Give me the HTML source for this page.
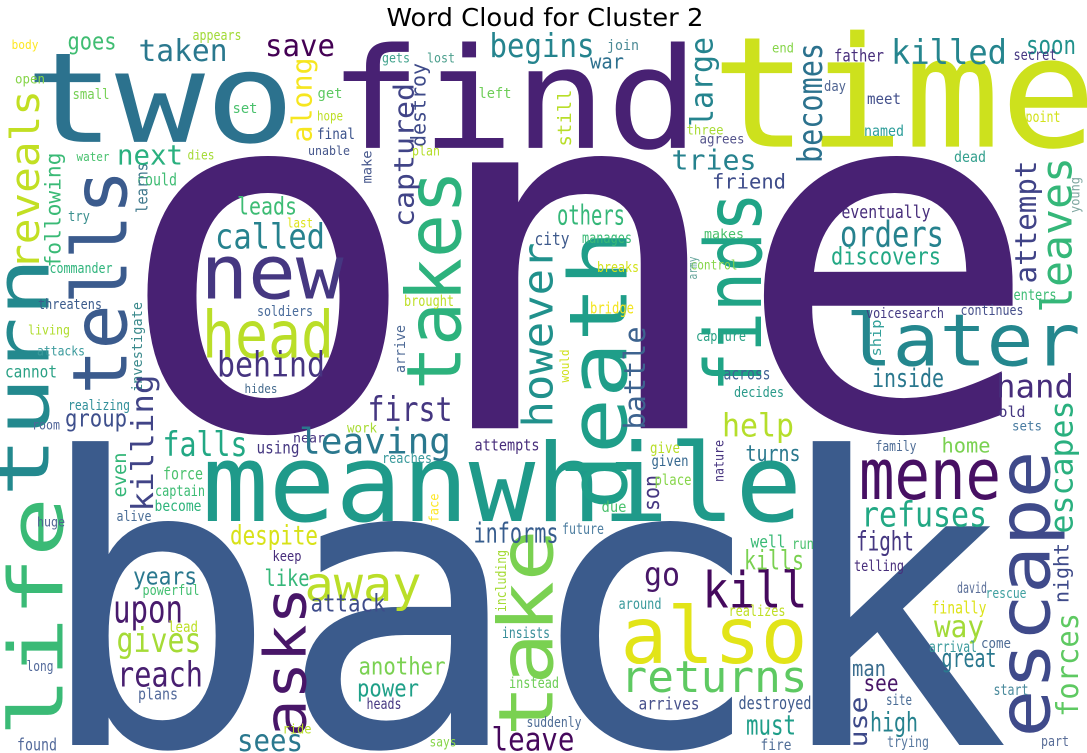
<!DOCTYPE html>
<html><head><meta charset="utf-8">
<style>
html,body{margin:0;padding:0;background:#fff;overflow:hidden;}
svg{display:block;}
</style></head>
<body>
<svg id="chart" width="1087" height="753" viewBox="0 0 1087 753" xmlns="http://www.w3.org/2000/svg">
<rect width="1087" height="753" fill="#fff"/>
<text x="545" y="26" text-anchor="middle" font-family="DejaVu Sans, Liberation Sans, sans-serif" font-size="25" textLength="317" lengthAdjust="spacingAndGlyphs" fill="#000">Word Cloud for Cluster 2</text>
<g id="cloud"></g>
</svg>
<script>
// word, weight (font size), color, placement [cx, cy, length, rotated]
const words = [];
const sizes = [];
const colors = [];
const cloud = [
["one",578,297,486,930,"#482173",0],
["back",522,637,400,976,"#3b5b8c",0],
["two",160,108,125,270,"#2c728e",0],
["find",514,110,140,370,"#482173",0],
["time",904,105,154,385,"#cde11d",0],
["meanwhile",502,492,108,600,"#1f9a8a",0],
["escape",1030,594,72,287,"#3f4a8a",1],
["life",42,617,75,240,"#3aba76",1],
["turn",28,377,75,240,"#23898e",1],
["reveals",28,180,40,180,"#c2df23",1],
["tells",106,282,76,225,"#3b5b8d",1],
["takes",440,280,76,220,"#2db27d",1],
["death",605,370,80,280,"#1f9e89",1],
["finds",740,292,78,200,"#20a486",1],
["however",541,335,42,185,"#21918c",1],
["take",532,633,76,207,"#7ad151",1],
["also",714,642,78,187,"#e2e418",0],
["returns",714,680,44,187,"#5ec962",0],
["kill",755,594,50,105,"#45095d",0],
["asks",290,662,58,150,"#481668",1],
["away",363,588,48,117,"#bade28",0],
["new",272,278,75,143,"#453781",0],
["head",268,340,65,132,"#bade28",0],
["behind",271,367,35,108,"#463480",0],
["called",270,239,35,110,"#26828e",0],
["later",963,346,72,235,"#24878e",0],
["mene",930,480,70,142,"#471063",0],
["leaves",1060,235,43,156,"#35b779",1],
["attempt",1028,222,29,123,"#404387",1],
["orders",892,237,36,104,"#26828e",0],
["discovers",886,258,24,110,"#22a884",0],
["eventually",886,213,18,89,"#472d7b",0],
["becomes",813,103,34,120,"#2c728e",1],
["killed",949,55,34,116,"#25858e",0],
["soon",1051,47,26,50,"#21918c",0],
["end",783,49,13,22,"#86d549",0],
["father",859,57,17,50,"#472d7b",0],
["secret",1035,56,15,43,"#453781",0],
["day",835,87,14,22,"#4f6492",0],
["meet",884,100,15,34,"#424f8b",0],
["point",1043,118,15,35,"#d2e21b",0],
["named",884,132,15,40,"#2e9e9a",0],
["dead",970,158,15,32,"#34a08e",0],
["young",1076,195,13,36,"#7fa6a0",1],
["enters",1035,296,15,43,"#3dbc74",0],
["continues",992,311,14,63,"#46508b",0],
["voicesearch",905,314,14,78,"#443a83",0],
["ship",877,338,14,37,"#33a09a",1],
["inside",908,380,26,72,"#2a788e",0],
["across",747,375,17,47,"#416294",0],
["decides",759,393,14,50,"#2a9a8a",0],
["hand",1035,389,32,78,"#472d7b",0],
["tries",714,162,28,85,"#26828e",0],
["friend",749,183,20,74,"#3e4c8a",0],
["makes",724,235,13,40,"#4ac16d",0],
["control",714,266,13,47,"#86d549",0],
["capture",721,337,14,50,"#2aa185",0],
["begins",542,48,33,105,"#25848e",0],
["join",623,46,14,32,"#4c8a96",0],
["gets",396,59,13,28,"#40a28c",0],
["lost",441,59,13,28,"#4a9e8c",0],
["war",607,63,20,34,"#2d708e",0],
["large",704,82,31,90,"#25848e",1],
["left",495,94,14,33,"#6ece58",0],
["destroy",420,105,20,84,"#3e4a89",1],
["captured",406,155,28,144,"#414487",1],
["still",566,118,19,57,"#b8de29",1],
["plan",426,152,13,28,"#b5de2b",0],
["make",368,167,13,33,"#46578c",1],
["three",705,131,13,37,"#a8db34",0],
["agrees",722,140,13,45,"#54548c",0],
["others",591,217,28,68,"#35b779",0],
["city",552,240,18,35,"#3e5a8c",0],
["manages",607,239,15,50,"#3aba76",0],
["breaks",618,268,14,42,"#d2e21b",0],
["brought",429,302,15,50,"#bddf26",0],
["bridge",612,309,16,44,"#f3e51e",0],
["army",694,268,12,23,"#63a39a",1],
["arrive",401,349,14,48,"#4e6a96",1],
["would",566,366,12,33,"#cfe11c",1],
["battle",637,378,29,103,"#3d638f",1],
["taken",183,53,30,89,"#2a788e",0],
["goes",92,43,24,49,"#40bd72",0],
["save",300,48,30,70,"#440154",0],
["appears",217,36,14,49,"#a2da37",0],
["body",25,46,12,27,"#fde725",0],
["open",30,80,13,30,"#86d549",0],
["small",91,95,14,37,"#75d054",0],
["get",330,94,14,25,"#5ec962",0],
["set",245,109,14,25,"#4ac16d",0],
["hope",330,117,13,26,"#bddf26",0],
["final",336,135,15,38,"#3b528b",0],
["next",150,157,28,66,"#2ab07f",0],
["dies",201,156,13,27,"#a5db36",0],
["water",93,158,12,33,"#48c16e",0],
["unable",329,152,12,42,"#46578c",0],
["along",304,100,28,85,"#f6e620",1],
["following",55,210,21,115,"#3aba76",1],
["leads",267,208,24,60,"#3dbc74",0],
["could",157,181,17,40,"#3fbc73",0],
["learns",143,188,16,50,"#3f788c",1],
["try",79,217,14,22,"#3a8f8e",0],
["last",300,224,13,26,"#dde318",0],
["commander",81,269,14,63,"#2fb47c",0],
["threatens",70,305,14,64,"#3b5b8c",0],
["soldiers",285,312,14,56,"#4a6c9b",0],
["living",49,331,13,42,"#b0dd2f",0],
["investigate",138,347,14,90,"#3b8a8c",1],
["attacks",61,352,13,48,"#3a9a9c",0],
["cannot",31,373,17,52,"#2aa185",0],
["hides",261,390,12,33,"#446a8d",0],
["realizing",99,406,14,62,"#32909a",0],
["room",46,426,13,28,"#52669a",0],
["group",96,420,24,62,"#3e4f8c",0],
["killing",145,443,30,137,"#414487",1],
["falls",205,447,34,85,"#22a884",0],
["using",278,449,17,43,"#453781",0],
["near",309,439,13,32,"#46337f",0],
["even",121,475,19,45,"#35b779",1],
["force",183,475,17,40,"#4ac16d",0],
["captain",180,492,15,50,"#3dbc74",0],
["become",178,507,15,47,"#2fb47c",0],
["alive",134,517,14,35,"#4a6d96",0],
["huge",51,523,13,28,"#4f6492",0],
["despite",274,537,27,88,"#d8e219",0],
["keep",287,557,14,29,"#472d7b",0],
["years",165,578,24,64,"#2a788e",0],
["like",287,580,23,45,"#35b779",0],
["powerful",171,591,14,57,"#43bf71",0],
["upon",148,612,38,70,"#481a6c",0],
["attack",348,605,24,75,"#3e4c8a",0],
["lead",183,628,15,30,"#bddf26",0],
["gives",159,643,34,85,"#a5db36",0],
["long",40,667,14,27,"#52699a",0],
["reach",160,677,35,86,"#481f70",0],
["plans",158,695,16,40,"#52699a",0],
["ride",297,730,13,29,"#b8de29",0],
["sees",270,743,30,66,"#2a788e",0],
["found",37,746,17,40,"#52699a",0],
["first",410,412,34,85,"#453781",0],
["leaving",375,444,36,152,"#2a788e",0],
["work",362,429,13,30,"#a8db34",0],
["attempts",507,446,16,65,"#472d7b",0],
["reaches",407,459,14,50,"#3a9a9c",0],
["give",665,449,15,30,"#b8de29",0],
["given",670,462,15,37,"#35678e",0],
["nature",720,461,13,42,"#46337f",1],
["son",653,493,22,36,"#453781",1],
["place",673,481,15,37,"#86d549",0],
["face",435,508,13,29,"#fde725",1],
["due",614,508,15,25,"#4ac16d",0],
["informs",516,535,28,85,"#365c8d",0],
["future",583,530,15,42,"#4e7ea0",0],
["go",662,577,32,36,"#481668",0],
["including",502,581,14,62,"#a5db36",1],
["around",640,605,15,43,"#3a9a9c",0],
["another",402,668,24,87,"#7ad151",0],
["power",388,690,24,62,"#1fa088",0],
["instead",534,684,15,50,"#6ece58",0],
["insists",526,634,15,48,"#3a8f9a",0],
["heads",384,705,15,35,"#453781",0],
["arrives",669,705,17,61,"#46508b",0],
["suddenly",554,723,14,55,"#4f6d96",0],
["leave",533,742,32,83,"#46085c",0],
["says",443,743,13,27,"#86d549",0],
["help",758,428,32,72,"#b5de2b",0],
["old",1012,413,15,27,"#453781",0],
["sets",1027,427,13,30,"#477aa0",0],
["escapes",1064,467,32,133,"#2ab07f",1],
["family",896,447,14,41,"#4f6d96",0],
["home",966,447,20,49,"#7ad151",0],
["turns",773,455,22,55,"#2a788e",0],
["refuses",924,517,35,126,"#22a884",0],
["fight",885,543,27,58,"#453781",0],
["night",1063,573,20,60,"#3e4a89",1],
["well",768,543,17,35,"#3aba76",0],
["run",803,545,15,22,"#4ac16d",0],
["kills",774,562,27,60,"#7ad151",0],
["telling",879,567,15,50,"#472d7b",0],
["david",972,589,15,30,"#5a6e98",0],
["rescue",1006,594,14,41,"#40a0a0",0],
["realizes",757,612,15,57,"#c0df25",0],
["finally",959,609,17,55,"#dde318",0],
["way",959,629,30,50,"#a2da37",0],
["forces",1070,665,30,104,"#5ec962",1],
["arrival",953,648,15,48,"#3a9a9c",0],
["come",996,644,14,30,"#4f6d96",0],
["great",969,660,26,55,"#2a788e",0],
["man",869,670,22,34,"#3b6d8e",0],
["see",881,685,23,35,"#481668",0],
["start",1011,691,15,35,"#4a8a9c",0],
["site",899,701,15,26,"#4a6d96",0],
["destroyed",775,704,18,73,"#3e5a8c",0],
["use",860,722,25,51,"#3e4a89",1],
["high",894,724,27,48,"#26828e",0],
["must",771,727,28,50,"#1f9e89",0],
["fire",776,746,15,31,"#4f6d96",0],
["trying",908,743,15,42,"#5a7aa0",0],
["part",1055,742,14,28,"#5a6e98",0]
];
for (const c of cloud) { words.push(c[0]); sizes.push(c[3]); colors.push(c[5]); }

const NS = "http://www.w3.org/2000/svg";
const g = document.getElementById("cloud");
cloud.forEach((c, i) => {
  const cx = c[1], cy = c[2], len = c[4], rot = c[6];
  const t = document.createElementNS(NS, "text");
  
  
  t.setAttribute("transform", "translate(" + cx + "," + cy + ")" + (rot ? " rotate(-90)" : ""));
  t.setAttribute("x", 0);
  t.setAttribute("y", (0.27 * sizes[i]).toFixed(1));
  t.setAttribute("text-anchor", "middle");
  t.setAttribute("font-family", "DejaVu Sans Mono, Liberation Mono, monospace");
  t.setAttribute("font-size", sizes[i]);
  t.setAttribute("textLength", len);
  t.setAttribute("lengthAdjust", "spacingAndGlyphs");
  t.setAttribute("fill", colors[i]);
  t.textContent = words[i];
  g.appendChild(t);
});
</script>
</body></html>
